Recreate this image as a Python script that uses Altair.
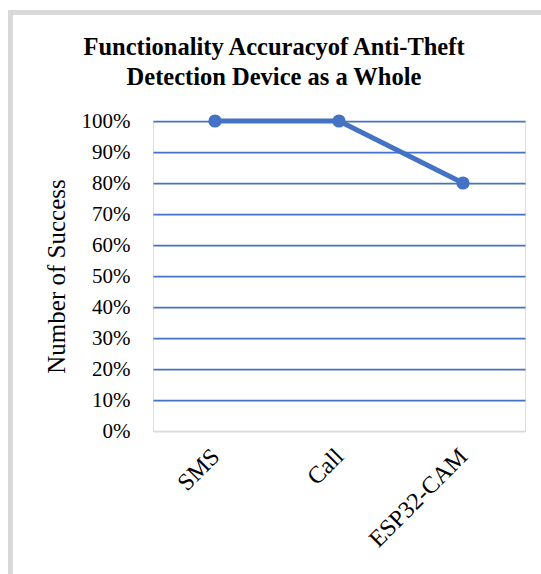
import altair as alt
import pandas as pd

categories = ["SMS", "Call", "ESP32-CAM"]
success = [1.0, 1.0, 0.8]
y_ticks = [0, 0.1, 0.2, 0.3, 0.4, 0.5, 0.6, 0.7, 0.8, 0.9, 1.0]
title_lines = ["Functionality Accuracyof Anti-Theft", "Detection Device as a Whole"]

df = pd.DataFrame({"feature": categories, "rate": success})

BLUE = "#4472C4"
GRAY = "#D9D9D9"
FONT = "Liberation Serif"

x = alt.X("feature:N", sort=categories, title=None,
          scale=alt.Scale(paddingInner=0, paddingOuter=0),
          axis=alt.Axis(labelAngle=-45, labelFontSize=24, labelFont=FONT,
                        labelColor="#000000", domain=False, ticks=False,
                        labelPadding=13, labelOffset=-8,
                        labelAlign="right", labelBaseline="top"))
y = alt.Y("rate:Q", title="Number of Success",
          scale=alt.Scale(domain=[0, 1]),
          axis=alt.Axis(values=y_ticks, format=".0%", labelFontSize=21,
                        labelFont=FONT, labelColor="#000000", domain=False,
                        ticks=False, labelPadding=23,
                        titleFont=FONT, titleFontSize=25, titleFontWeight="normal",
                        titleColor="#000000", titlePadding=12,
                        gridColor={"condition": {"test": "datum.value === 0", "value": GRAY},
                                   "value": BLUE},
                        gridWidth=1.75))

one = alt.Data(values=[{"k": 0}])

frame = alt.Chart(one).mark_rect(fill=None, stroke=GRAY, strokeWidth=5, clip=False).encode(
    x=alt.value(-142.5), y=alt.value(-108.5), x2=alt.value(420), y2=alt.value(480))

title1 = alt.Chart(one).mark_text(font=FONT, fontSize=24.5, fontWeight="bold", color="#000000",
                                   align="center", baseline="alphabetic").encode(
    x=alt.value(121), y=alt.value(-66), text=alt.value(title_lines[0]))
title2 = alt.Chart(one).mark_text(font=FONT, fontSize=24.5, fontWeight="bold", color="#000000",
                                   align="center", baseline="alphabetic").encode(
    x=alt.value(121), y=alt.value(-36), text=alt.value(title_lines[1]))

line = alt.Chart(df).mark_line(color=BLUE, strokeWidth=5).encode(x=x, y=y)
pts = alt.Chart(df).mark_circle(color=BLUE, opacity=1, size=175).encode(x=x, y=y)

chart = alt.layer(frame, title1, title2, line, pts).properties(
    width=372, height=310,
    padding={"left": 153, "top": 121, "right": 16, "bottom": 143},
    autosize=alt.AutoSizeParams(type="none"),
).configure_view(stroke=None).configure(background="white")

chart.save("out.html", embed_options={"renderer": "svg", "actions": False})
